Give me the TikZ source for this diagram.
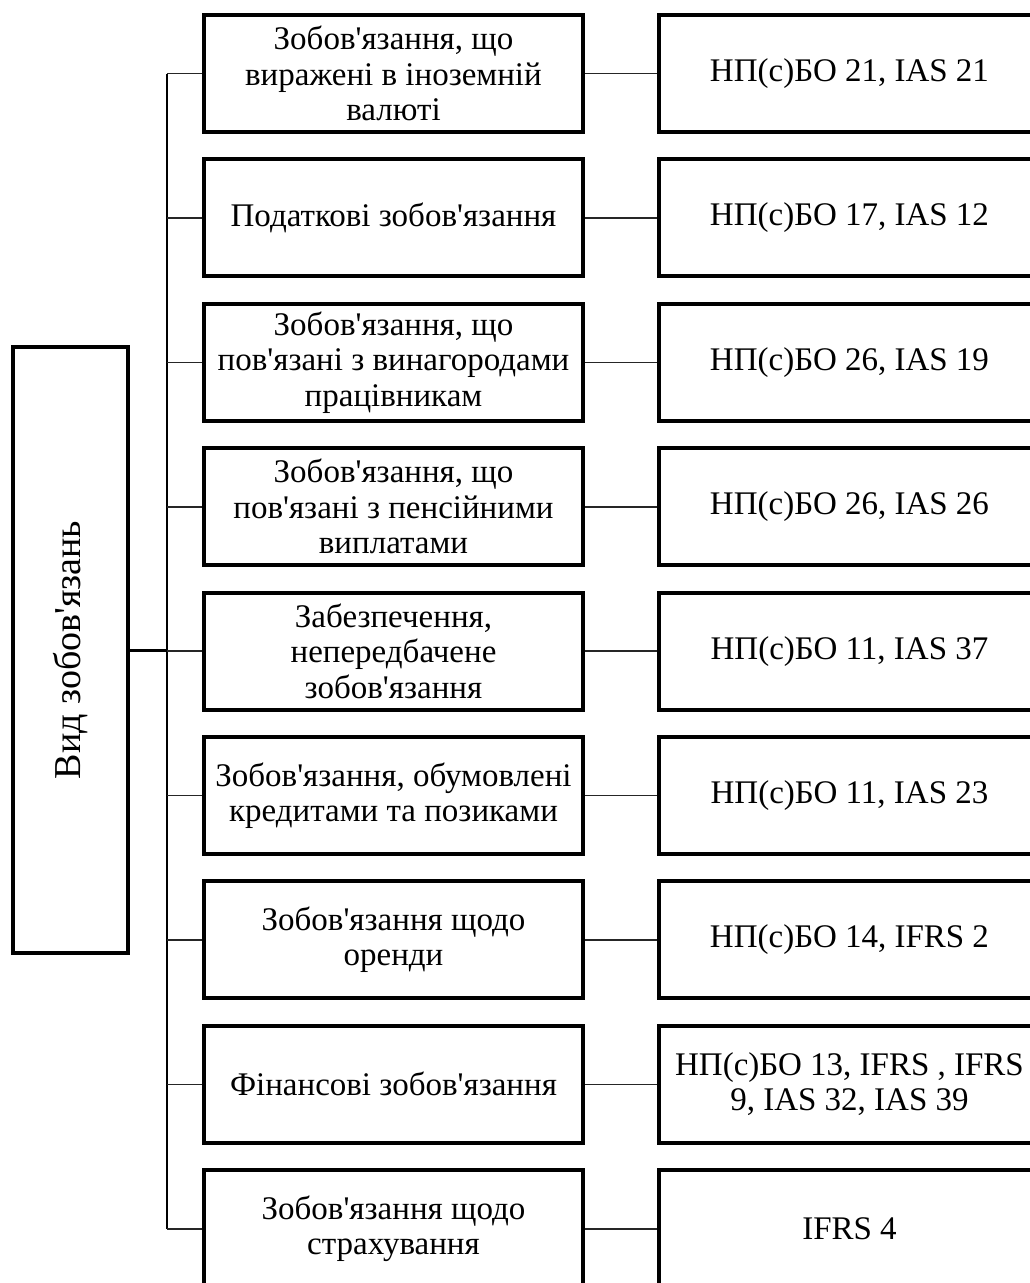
\documentclass[tikz,border=0pt]{standalone}
\usepackage{fontspec}
\newfontfamily\ukrfont{Liberation Serif}
\usepackage{tikz}

\begin{document}
\begin{tikzpicture}[x=1pt, y=-1pt,
    box/.style={draw, line width=4pt, align=center, inner sep=2pt,
                font=\ukrfont\fontsize{33}{35.5}\selectfont},
    kind/.style={box, minimum width=379pt, minimum height=117pt},
    norm/.style={box, minimum width=381pt, minimum height=117pt},
    trunk/.style={line width=2pt},
    branch/.style={line width=1.6pt, black!85}]
  \useasboundingbox (0,0) rectangle (1030,1283);
           \node[draw, line width=4pt, minimum width=115pt, minimum height=606pt](vid) at (70.5,650) {};
           \node[rotate=90, font=\ukrfont\fontsize{38}{42}\selectfont](vidtext) at (vid.center) {Вид зобов'язань};
           \coordinate (top) at (167,73.5);
           \coordinate (bot) at (167,1228.7);
           % types of liabilities
           \node[kind](m1) at (393.5,73.5) {Зобов'язання, що\\виражені в іноземній\\валюті};
           \node[kind](m2) at (393.5,217.9) {Податкові зобов'язання};
           \node[kind](m3) at (393.5,362.3) {Зобов'язання, що\\пов'язані з винагородами\\працівникам};
           \node[kind](m4) at (393.5,506.7) {Зобов'язання, що\\пов'язані з пенсійними\\виплатами};
           \node[kind](m5) at (393.5,651.1) {Забезпечення,\\непередбачене\\зобов'язання};
           \node[kind](m6) at (393.5,795.5) {Зобов'язання, обумовлені\\кредитами та позиками};
           \node[kind](m7) at (393.5,939.9) {Зобов'язання щодо\\оренди};
           \node[kind](m8) at (393.5,1084.3) {Фінансові зобов'язання};
           \node[kind](m9) at (393.5,1228.7) {Зобов'язання щодо\\страхування};
           % standards
           \node[norm](r1) at (849.5,73.5) {НП(с)БО 21, IAS 21};
           \node[norm](r2) at (849.5,217.9) {НП(с)БО 17, IAS 12};
           \node[norm](r3) at (849.5,362.3) {НП(с)БО 26, IAS 19};
           \node[norm](r4) at (849.5,506.7) {НП(с)БО 26, IAS 26};
           \node[norm](r5) at (849.5,651.1) {НП(с)БО 11, IAS 37};
           \node[norm](r6) at (849.5,795.5) {НП(с)БО 11, IAS 23};
           \node[norm](r7) at (849.5,939.9) {НП(с)БО 14, IFRS 2};
           \node[norm](r8) at (849.5,1084.3) {НП(с)БО 13, IFRS , IFRS\\9, IAS 32, IAS 39};
           \node[norm](r9) at (849.5,1228.7) {IFRS 4};
      \draw[line width=3pt] (vid.east) -- (vid.east -| top);
      \draw[trunk] (top) -- (bot);
      \draw[branch] (m1.west -| top) -- (m1.west);
      \draw[branch] (m2.west -| top) -- (m2.west);
      \draw[branch] (m3.west -| top) -- (m3.west);
      \draw[branch] (m4.west -| top) -- (m4.west);
      \draw[branch] (m5.west -| top) -- (m5.west);
      \draw[branch] (m6.west -| top) -- (m6.west);
      \draw[branch] (m7.west -| top) -- (m7.west);
      \draw[branch] (m8.west -| top) -- (m8.west);
      \draw[branch] (m9.west -| top) -- (m9.west);
      \draw[branch] (m1) -- (r1);
      \draw[branch] (m2) -- (r2);
      \draw[branch] (m3) -- (r3);
      \draw[branch] (m4) -- (r4);
      \draw[branch] (m5) -- (r5);
      \draw[branch] (m6) -- (r6);
      \draw[branch] (m7) -- (r7);
      \draw[branch] (m8) -- (r8);
      \draw[branch] (m9) -- (r9);
          \end{tikzpicture}
\end{document}
